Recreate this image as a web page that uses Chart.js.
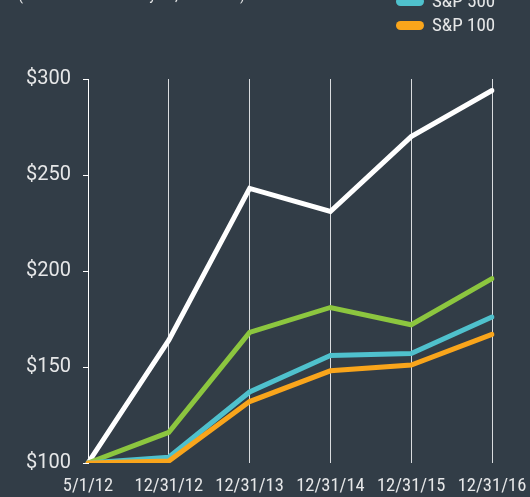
<!DOCTYPE html>
<html>
<head>
<meta charset="utf-8">
<script src="https://cdn.jsdelivr.net/npm/chart.js@4/dist/chart.umd.min.js"></script>
<style>
  body { margin: 0; background: #323d47; }
  #wrap { position: relative; width: 530px; height: 497px; overflow: hidden; background: #323d47; }
  #subtitle { position: absolute; left: 18px; top: -15px; color: #e6e7e8; font: 16px 'Roboto Condensed', Roboto, sans-serif; white-space: nowrap; }
  .leg { position: absolute; left: 396px; color: #e6e7e8; font: 19px 'Roboto Condensed', Roboto, sans-serif; white-space: nowrap; }
  .leg span { display: inline-block; width: 28px; height: 9px; border-radius: 5px; margin-right: 8px; vertical-align: middle; }
</style>
</head>
<body>
<div id="wrap">
  <div id="subtitle">(Total return at each year, in dollars)</div>
  <div class="leg" style="top:-11px"><span style="background:#4fc1cd"></span>S&amp;P 500</div>
  <div class="leg" style="top:13px"><span style="background:#f9a51b"></span>S&amp;P 100</div>
  <canvas id="myChart" width="530" height="497"></canvas>
</div>
<script>
// values ($100 invested on 5/1/12)
const dates = ['5/1/12', '12/31/12', '12/31/13', '12/31/14', '12/31/15', '12/31/16'];
const company = [100, 164, 243, 231, 270, 294];
const peerGroup = [100, 116, 168, 181, 172, 196];
const sp500 = [100, 103, 137, 156, 157, 176];
const sp100 = [100, 101, 132, 148, 151, 167];

const tickColor = '#e6e7e8';

function line(label, values, color, order) {
    return {
        label: label,
        data: values,
        borderColor: color,
        backgroundColor: color,
        borderWidth: 5,
        borderCapStyle: 'round',
        pointRadius: 0,
        pointHoverRadius: 0,
        tension: 0,
        order: order,
    };
}

const data = {
    labels: dates,
    datasets: [
        line('Company', company, '#ffffff', 3),
        line('Peer Group', peerGroup, '#8cc63f', 2),
        line('S&P 500', sp500, '#4fc1cd', 1),
        line('S&P 100', sp100, '#f9a51b', 0),
    ],
};

const config = {
    type: 'line',
    data: data,
    options: {
        responsive: false,
        animation: false,
        devicePixelRatio: 1,
        layout: {
            padding: {top: 79, left: 0, right: 38, bottom: 0}
        },
        plugins: {
            legend: {display: false},
            tooltip: {enabled: false},
        },
        scales: {
            x: {
                offset: false,
                // transparent tick marks just push the labels down
                grid: {color: '#d9dcdf', lineWidth: 1, drawTicks: true, tickLength: 12, tickColor: 'rgba(0,0,0,0)'},
                border: {display: false},
                ticks: {
                    color: tickColor,
                    font: {family: "'Roboto Condensed', Roboto, sans-serif", size: 18.5},
                    padding: 0,
                    maxRotation: 0,
                    autoSkip: false,
                },
                afterFit: function(scale) { scale.height = 34; },
            },
            y: {
                min: 100,
                max: 300,
                grid: {drawOnChartArea: false, drawTicks: true, tickLength: 5, color: '#ffffff'},
                border: {display: true, color: '#ffffff', width: 1},
                ticks: {
                    stepSize: 50,
                    color: tickColor,
                    font: {family: 'Roboto, sans-serif', size: 20},
                    padding: 12,
                    callback: function(v) { return '$' + v; },
                },
                afterFit: function(scale) { scale.width = 88; },
            },
        },
    },
};

const myChart = new Chart(document.getElementById('myChart'), config);
</script>
</body>
</html>
